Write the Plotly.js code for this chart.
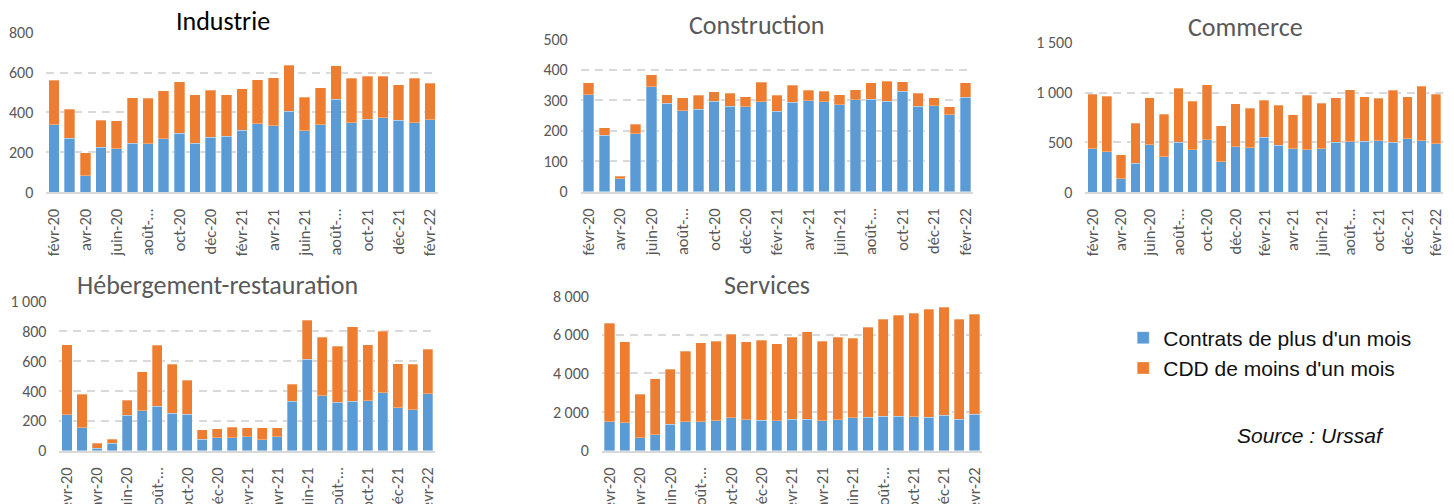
<!DOCTYPE html>
<html>
<head>
<meta charset="utf-8">
<script src="https://cdn.plot.ly/plotly-3.0.1.min.js"></script>
<style>html,body{margin:0;padding:0;background:#fff;}#chart{width:1454px;height:504px;}</style>
</head>
<body>
<div id="chart"></div>
<script>
// Months (categories)
const months = ["févr-20","mars-20","avr-20","mai-20","juin-20","juil-20","août-20","sept-20","oct-20","nov-20","déc-20","janv-21",
  "févr-21","mars-21","avr-21","mai-21","juin-21","juil-21","août-21","sept-21","oct-21","nov-21","déc-21","janv-22","févr-22"];
// Tick labels shown (every other month)
const tickMonths = ["févr-20","avr-20","juin-20","août-20","oct-20","déc-20","févr-21","avr-21","juin-21","août-21","oct-21","déc-21","févr-22"];
const tickTexts  = ["févr-20","avr-20","juin-20","août-…","oct-20","déc-20","févr-21","avr-21","juin-21","août-…","oct-21","déc-21","févr-22"];

// Industrie
const indPlus  = [339,271,84,225,219,247,244,269,296,245,276,281,312,344,334,406,309,339,466,349,366,374,361,349,364];
const indMoins = [222,145,113,137,140,227,227,239,257,244,235,208,206,219,239,230,167,185,169,222,215,207,178,222,182];
// Construction
const conPlus  = [318,185,42,191,344,291,266,270,296,280,278,295,264,293,298,295,286,302,303,296,329,280,282,253,310];
const conMoins = [39,25,9,31,39,27,43,47,32,43,33,64,52,57,35,35,32,33,54,66,31,43,27,26,47];
// Commerce
const comPlus  = [438,408,137,291,478,354,501,428,528,307,458,448,551,471,434,428,438,501,508,511,515,501,538,515,488];
const comMoins = [544,554,237,401,471,428,541,487,548,358,431,394,371,401,341,544,457,448,518,448,430,521,421,547,494];
// Hébergement-restauration
const hebPlus  = [241,152,16,49,237,268,297,252,243,76,87,87,94,74,94,330,612,368,324,330,333,388,288,275,382];
const hebMoins = [467,225,33,27,100,259,408,326,230,65,60,71,58,78,60,116,261,391,375,498,375,411,295,305,297];
// Services
const serPlus  = [1500,1448,672,828,1362,1500,1500,1552,1690,1603,1569,1552,1621,1621,1552,1603,1707,1724,1793,1776,1758,1724,1827,1621,1879];
const serMoins = [5086,4189,2242,2879,2862,3638,4069,4103,4344,4034,4155,3982,4258,4534,4120,4276,4120,4672,5000,5241,5362,5586,5603,5172,5189];

const seriesNames = ["Contrats de plus d'un mois","CDD de moins d'un mois"];
const colors = ["#5B9BD5","#ED7D31"];

const panels = [
  {title:"Industrie",                plus:indPlus, moins:indMoins, range:[0,800],  dtick:200,  tcolor:"#000000"},
  {title:"Construction",             plus:conPlus, moins:conMoins, range:[0,500],  dtick:100,  tcolor:"#595959"},
  {title:"Commerce",                 plus:comPlus, moins:comMoins, range:[0,1500], dtick:500,  tcolor:"#595959"},
  {title:"Hébergement-restauration", plus:hebPlus, moins:hebMoins, range:[0,1000], dtick:200,  tcolor:"#595959"},
  {title:"Services",                 plus:serPlus, moins:serMoins, range:[0,8000], dtick:2000, tcolor:"#595959"}
];

// layout geometry
const xDomains = [[0.0318,0.3011],[0.3994,0.6693],[0.7464,0.9925],[0.0409,0.2993],[0.4140,0.6754]];
const yDomains = [[0.6185,0.9351],[0.6196,0.9220],[0.6185,0.9153],[0.1058,0.4022],[0.1058,0.4127]];
const titlePos = [[0.1534,0.9589],[0.5206,0.9504],[0.8563,0.9470],[0.1499,0.4345],[0.5275,0.4345]];

const FONT = "Carlito, Calibri, 'Liberation Sans', Arial, sans-serif";
const traces = [];
const layout = {
  width:1454, height:504,
  margin:{l:0,r:0,t:0,b:0},
  paper_bgcolor:"#ffffff", plot_bgcolor:"rgba(0,0,0,0)",
  barmode:"stack", bargap:0.33,
  separators:", ",
  showlegend:true,
  legend:{x:0.7725, y:0.370, xanchor:"left", yanchor:"top", traceorder:"normal",
          font:{family:"'Liberation Sans', Arial, sans-serif", size:21, color:"#111111"},
          bgcolor:"rgba(0,0,0,0)", itemwidth:30},
  annotations:[],
  font:{family:FONT}
};

panels.forEach((p,i)=>{
  const n = i+1;
  const xa = n===1 ? "x" : "x"+n;
  const ya = n===1 ? "y" : "y"+n;
  [p.plus,p.moins].forEach((vals,k)=>{
    traces.push({
      type:"bar", x:months, y:vals, name:seriesNames[k],
      xaxis:xa, yaxis:ya,
      marker:{color:colors[k], line:{color:"rgba(255,255,255,0.5)", width:0.6}},
      legendgroup:"g"+k, showlegend:i===0,
      hoverinfo:"x+y+name"
    });
  });
  layout["xaxis"+(n===1?"":n)] = {
    domain:xDomains[i], anchor:ya, type:"category",
    categoryorder:"array", categoryarray:months,
    tickmode:"array", tickvals:tickMonths, ticktext:tickTexts,
    tickangle:-90, ticks:"", ticklabelstandoff:8,
    tickfont:{family:FONT, size:16.5, color:"#595959"},
    showline:true, linecolor:"#d9d9d9", linewidth:2,
    showgrid:false, zeroline:false, fixedrange:true
  };
  layout["yaxis"+(n===1?"":n)] = {
    domain:yDomains[i], anchor:xa, range:p.range, dtick:p.dtick, tick0:0,
    tickformat:",d", ticks:"", ticklabelstandoff:12,
    tickfont:{family:FONT, size:16, color:"#595959"},
    showgrid:true, gridcolor:"#d9d9d9", gridwidth:2, griddash:"8px,6px",
    showline:false, zeroline:false, fixedrange:true
  };
  layout.annotations.push({
    text:p.title, xref:"paper", yref:"paper", x:titlePos[i][0], y:titlePos[i][1],
    xanchor:"center", yanchor:"middle", showarrow:false,
    font:{family:FONT, size:26, color:p.tcolor}
  });
});

layout.annotations.push({
  text:"<i>Source : Urssaf</i>", xref:"paper", yref:"paper", x:0.9010, y:0.1369,
  xanchor:"center", yanchor:"middle", showarrow:false,
  font:{family:"'Liberation Sans', Arial, sans-serif", size:21, color:"#111111"}
});

Plotly.newPlot("chart", traces, layout, {displayModeBar:false, staticPlot:true});
</script>
</body>
</html>
